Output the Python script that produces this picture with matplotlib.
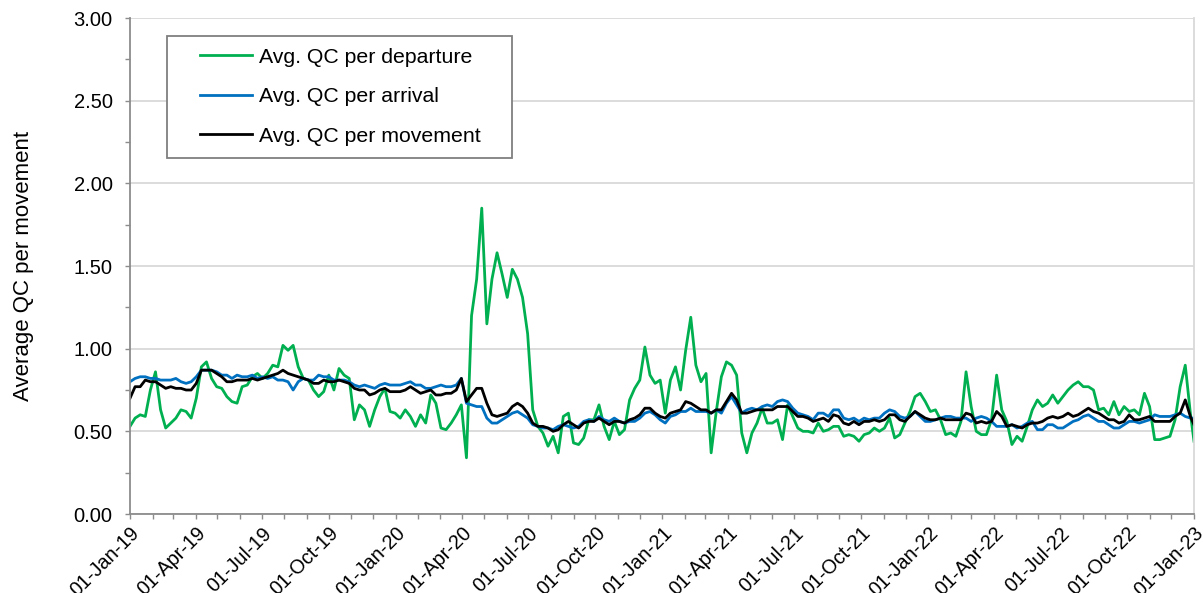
import matplotlib
matplotlib.use("Agg")
import matplotlib.pyplot as plt
import matplotlib.dates as mdates
from matplotlib.legend_handler import HandlerLine2D
from matplotlib.ticker import MultipleLocator, FormatStrFormatter
import pandas as pd

plt.rcParams['font.family'] = ['Liberation Sans', 'DejaVu Sans']

# Weekly samples from 01-Jan-2019, plus final point 01-Jan-2023
dates = list(pd.date_range('2019-01-01', periods=209, freq='7D')) + [pd.Timestamp('2023-01-01')]

qc_departure = [
    0.53, 0.58, 0.60, 0.59, 0.75, 0.86, 0.63, 0.52, 0.55, 0.58,
    0.63, 0.62, 0.58, 0.70, 0.89, 0.92, 0.82, 0.77, 0.76, 0.71,
    0.68, 0.67, 0.77, 0.78, 0.83, 0.85, 0.82, 0.85, 0.90, 0.89,
    1.02, 0.99, 1.02, 0.89, 0.82, 0.81, 0.75, 0.71, 0.74, 0.84,
    0.75, 0.88, 0.84, 0.82, 0.57, 0.66, 0.63, 0.53, 0.63, 0.71,
    0.76, 0.62, 0.61, 0.58, 0.63, 0.59, 0.53, 0.60, 0.55, 0.72,
    0.67, 0.52, 0.51, 0.55, 0.60, 0.66, 0.34, 1.20, 1.42, 1.85,
    1.15, 1.42, 1.58, 1.45, 1.31, 1.48, 1.42, 1.31, 1.09, 0.63,
    0.53, 0.49, 0.41, 0.47, 0.37, 0.59, 0.61, 0.43, 0.42, 0.46,
    0.57, 0.57, 0.66, 0.53, 0.45, 0.56, 0.48, 0.51, 0.69, 0.76,
    0.81, 1.01, 0.84, 0.79, 0.81, 0.61, 0.81, 0.89, 0.75, 0.99,
    1.19, 0.90, 0.80, 0.85, 0.37, 0.62, 0.83, 0.92, 0.90, 0.84,
    0.49, 0.37, 0.49, 0.55, 0.64, 0.55, 0.55, 0.57, 0.45, 0.66,
    0.59, 0.52, 0.50, 0.50, 0.49, 0.55, 0.50, 0.51, 0.53, 0.53,
    0.47, 0.48, 0.47, 0.44, 0.48, 0.49, 0.52, 0.50, 0.52, 0.58,
    0.46, 0.48, 0.55, 0.62, 0.71, 0.73, 0.68, 0.62, 0.63, 0.57,
    0.48, 0.49, 0.47, 0.56, 0.86, 0.65, 0.50, 0.48, 0.48, 0.57,
    0.84, 0.63, 0.56, 0.42, 0.47, 0.44, 0.53, 0.63, 0.69, 0.65,
    0.67, 0.72, 0.67, 0.71, 0.75, 0.78, 0.80, 0.77, 0.77, 0.75,
    0.63, 0.64, 0.60, 0.68, 0.60, 0.65, 0.62, 0.63, 0.60, 0.73,
    0.65, 0.45, 0.45, 0.46, 0.47, 0.57, 0.77, 0.90, 0.61, 0.44,
]

qc_arrival = [
    0.80, 0.82, 0.83, 0.83, 0.82, 0.82, 0.81, 0.81, 0.81, 0.82,
    0.80, 0.79, 0.80, 0.83, 0.87, 0.87, 0.87, 0.86, 0.84, 0.84,
    0.82, 0.84, 0.83, 0.83, 0.84, 0.82, 0.83, 0.82, 0.83, 0.81,
    0.81, 0.80, 0.75, 0.80, 0.82, 0.81, 0.81, 0.84, 0.83, 0.83,
    0.81, 0.81, 0.81, 0.80, 0.78, 0.77, 0.78, 0.77, 0.76, 0.78,
    0.79, 0.78, 0.78, 0.78, 0.79, 0.80, 0.78, 0.78, 0.76, 0.76,
    0.77, 0.78, 0.77, 0.77, 0.78, 0.82, 0.67, 0.66, 0.65, 0.65,
    0.58, 0.55, 0.55, 0.57, 0.59, 0.61, 0.62, 0.60, 0.58, 0.54,
    0.53, 0.52, 0.52, 0.51, 0.53, 0.54, 0.53, 0.52, 0.53, 0.56,
    0.57, 0.56, 0.59, 0.57, 0.56, 0.58, 0.56, 0.55, 0.56, 0.56,
    0.58, 0.61, 0.62, 0.60, 0.57, 0.55, 0.59, 0.60, 0.62, 0.62,
    0.64, 0.62, 0.62, 0.62, 0.61, 0.63, 0.61, 0.67, 0.71, 0.66,
    0.61, 0.63, 0.64, 0.63, 0.65, 0.66, 0.65, 0.68, 0.69, 0.68,
    0.64, 0.61, 0.60, 0.59, 0.57, 0.61, 0.61, 0.59, 0.63, 0.63,
    0.58, 0.57, 0.58, 0.56, 0.58, 0.57, 0.58, 0.58, 0.61, 0.63,
    0.62, 0.59, 0.58, 0.59, 0.62, 0.59, 0.56, 0.56, 0.57, 0.58,
    0.59, 0.59, 0.58, 0.58, 0.58, 0.56, 0.58, 0.59, 0.58, 0.56,
    0.53, 0.53, 0.53, 0.54, 0.52, 0.53, 0.55, 0.56, 0.51, 0.51,
    0.54, 0.54, 0.52, 0.52, 0.54, 0.56, 0.57, 0.59, 0.60, 0.58,
    0.56, 0.56, 0.54, 0.52, 0.52, 0.54, 0.56, 0.56, 0.55, 0.56,
    0.57, 0.60, 0.59, 0.59, 0.59, 0.60, 0.61, 0.59, 0.58, 0.58,
]

qc_movement = [
    0.70, 0.77, 0.77, 0.81, 0.80, 0.80, 0.78, 0.76, 0.77, 0.76,
    0.76, 0.75, 0.75, 0.79, 0.87, 0.87, 0.87, 0.85, 0.83, 0.80,
    0.80, 0.81, 0.81, 0.81, 0.82, 0.81, 0.82, 0.83, 0.84, 0.85,
    0.87, 0.85, 0.84, 0.83, 0.82, 0.81, 0.79, 0.79, 0.81, 0.80,
    0.80, 0.81, 0.80, 0.79, 0.76, 0.75, 0.75, 0.72, 0.73, 0.75,
    0.76, 0.74, 0.74, 0.74, 0.75, 0.77, 0.75, 0.73, 0.74, 0.75,
    0.72, 0.72, 0.73, 0.73, 0.75, 0.82, 0.68, 0.72, 0.76, 0.76,
    0.67, 0.60, 0.59, 0.60, 0.61, 0.65, 0.67, 0.65, 0.61, 0.55,
    0.53, 0.53, 0.52, 0.50, 0.51, 0.54, 0.56, 0.54, 0.52, 0.55,
    0.56, 0.56, 0.58, 0.56, 0.54, 0.56, 0.56, 0.55, 0.57, 0.58,
    0.60, 0.64, 0.64, 0.61, 0.59, 0.58, 0.61, 0.62, 0.63, 0.68,
    0.67, 0.65, 0.63, 0.63, 0.61, 0.63, 0.63, 0.68, 0.73, 0.69,
    0.61, 0.61, 0.62, 0.63, 0.63, 0.63, 0.63, 0.65, 0.65, 0.65,
    0.62, 0.59, 0.59, 0.58, 0.56, 0.57, 0.58, 0.56, 0.60, 0.59,
    0.55, 0.54, 0.56, 0.54, 0.56, 0.56, 0.57, 0.56, 0.57, 0.60,
    0.60, 0.57, 0.56, 0.59, 0.62, 0.60, 0.58, 0.57, 0.57, 0.58,
    0.57, 0.57, 0.57, 0.57, 0.61, 0.60, 0.55, 0.56, 0.55, 0.56,
    0.62, 0.59, 0.53, 0.54, 0.53, 0.52, 0.54, 0.55, 0.55, 0.56,
    0.58, 0.59, 0.58, 0.59, 0.61, 0.59, 0.60, 0.62, 0.64, 0.62,
    0.61, 0.59, 0.57, 0.57, 0.55, 0.56, 0.60, 0.57, 0.57, 0.58,
    0.59, 0.56, 0.56, 0.56, 0.56, 0.59, 0.61, 0.69, 0.59, 0.54,
]

labels = ['Avg. QC per departure', 'Avg. QC per arrival', 'Avg. QC per movement']
colors = ['#00B050', '#0070C0', '#000000']

fig = plt.figure(figsize=(12.03, 5.93), dpi=100)
ax = fig.add_axes([130 / 1203, 79 / 593, 1064 / 1203, 496 / 593])

for vals, lab, col in zip([qc_departure, qc_arrival, qc_movement], labels, colors):
    ax.plot(dates, vals, color=col, lw=2.0, label=lab, solid_joinstyle='round')

ax.set_xlim(pd.Timestamp('2019-01-01'), pd.Timestamp('2023-01-01'))
ax.set_ylim(0, 3.0)

ax.yaxis.set_major_locator(MultipleLocator(0.5))
ax.yaxis.set_minor_locator(MultipleLocator(0.25))
ax.yaxis.set_major_formatter(FormatStrFormatter('%.2f'))
ax.xaxis.set_major_locator(mdates.MonthLocator(bymonth=[1, 4, 7, 10], bymonthday=1))
ax.xaxis.set_minor_locator(mdates.MonthLocator(bymonthday=1))
ax.xaxis.set_major_formatter(mdates.DateFormatter('%d-%b-%y'))

ax.grid(axis='y', which='major', color='#D9D9D9', lw=1.3)
ax.set_axisbelow(True)

spine_col = '#8C8C8C'
ax.spines['left'].set_color(spine_col)
ax.spines['bottom'].set_color(spine_col)
ax.spines['left'].set_linewidth(1.3)
ax.spines['bottom'].set_linewidth(1.3)
ax.spines['right'].set_color('#D9D9D9')
ax.spines['right'].set_linewidth(1.3)
ax.spines['top'].set_visible(False)

ax.tick_params(axis='both', which='both', direction='out', color=spine_col,
               length=3.5, width=1.0, labelcolor='#000000')
ax.tick_params(axis='y', which='major', pad=9, labelsize=14.5)
ax.tick_params(axis='x', which='major', labelsize=14.2)
for lbl in ax.get_xticklabels():
    lbl.set_rotation(45)
    lbl.set_ha('right')
    lbl.set_va('top')
    lbl.set_rotation_mode('anchor')

ax.set_ylabel('Average QC per movement', fontsize=16)
ax.yaxis.set_label_coords(-0.090, 0.5)

leg = ax.legend(loc='upper left', bbox_to_anchor=(37 / 1064, 0.5, 345 / 1064, (514 - 36) / 496 - 0.5),
                mode='expand', borderaxespad=0, borderpad=0.55, labelspacing=0.97,
                handlelength=3.46, handletextpad=0.3, fontsize=15.3, fancybox=False,
                framealpha=1, edgecolor='#7F7F7F',
                handler_map={plt.Line2D: HandlerLine2D(xpad=1.0)})
leg.get_frame().set_linewidth(1.3)

fig.savefig('out.png', dpi=100)
